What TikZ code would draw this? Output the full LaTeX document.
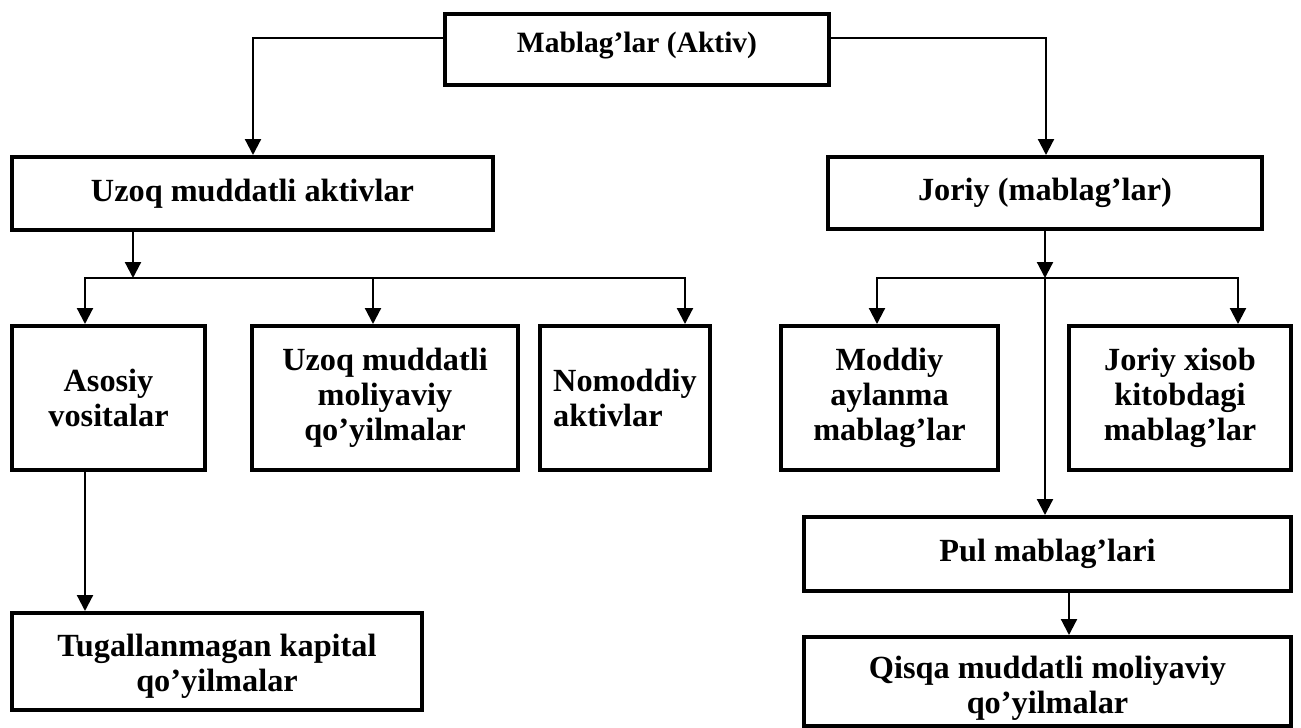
\documentclass[tikz,border=0pt]{standalone}
\usepackage{fontspec}
\setmainfont{Liberation Serif}
\usetikzlibrary{arrows.meta}
\begin{document}
\begin{tikzpicture}[x=1pt,y=-1pt,
  box/.style={draw, line width=4pt, inner sep=4pt, align=center,
    font=\bfseries\fontsize{32.3}{35}\selectfont},
  conn/.style={line width=2.2pt, line cap=rect},
  arr/.style={line width=2.2pt, -{Triangle[width=16pt,length=16pt]}}]
\useasboundingbox (0,0) rectangle (1301,728);

% boxes
\node[box, minimum width=384pt, minimum height=71pt, text depth=14pt,
  font=\bfseries\fontsize{29.5}{33}\selectfont] (top) at (637,49.5) {Mablag’lar (Aktiv)};
\node[box, minimum width=481pt, minimum height=73pt] (uz) at (252.5,193.5) {Uzoq muddatli aktivlar};
\node[box, minimum width=434pt, minimum height=72pt] (jo) at (1045,193) {Joriy (mablag’lar)};

\node[box, minimum width=193pt, minimum height=144pt] (as) at (108.5,398) {Asosiy\\vositalar};
\node[box, minimum width=266pt, minimum height=144pt] (um) at (385,398) {Uzoq muddatli\\moliyaviy\\qo’yilmalar};
\node[box, minimum width=170pt, minimum height=144pt, align=left] (nm) at (625,398) {Nomoddiy\\aktivlar};
\node[box, minimum width=217pt, minimum height=144pt] (md) at (889.5,398) {Moddiy\\aylanma\\mablag’lar};
\node[box, minimum width=222pt, minimum height=144pt] (jx) at (1180,398) {Joriy xisob\\kitobdagi\\mablag’lar};

\node[box, minimum width=410pt, minimum height=97pt] (tg) at (217,661.5)
  {\rule{0pt}{31pt}Tugallanmagan kapital\\qo’yilmalar};
\node[box, minimum width=487pt, minimum height=74pt] (pul) at (1047.5,554) {Pul mablag’lari};
\node[box, minimum width=487pt, minimum height=89pt] (qs) at (1047.5,681.5)
  {\rule{0pt}{36pt}Qisqa muddatli moliyaviy\\qo’yilmalar};

% top level connectors
\coordinate (jl) at (253,38);
\coordinate (jr) at (1046,38);
\draw[arr] (top.west |- jl) -| (uz.north -| jl);
\draw[arr] (top.east |- jr) -| (jo.north -| jr);

% long-term assets branch
\coordinate (lb) at (133,278);
\coordinate (la) at (85,278);
\coordinate (lm) at (373,278);
\coordinate (lc) at (685,278);
\draw[arr] (uz.south -| lb) -- (lb);
\draw[conn] (la) -- (lc);
\draw[arr] (la) -- (as.north -| la);
\draw[arr] (lm) -- (um.north -| lm);
\draw[arr] (lc) -- (nm.north -| lc);
\draw[arr] (as.south -| la) -- (tg.north -| la);

% current assets branch
\coordinate (rb) at (1045,278);
\coordinate (ra) at (877,278);
\coordinate (rc) at (1238,278);
\coordinate (pv) at (1069,591);
\draw[arr] (jo.south -| rb) -- (rb);
\draw[arr] (rb) -- (pul.north -| rb);
\draw[conn] (ra) -- (rc);
\draw[arr] (ra) -- (md.north -| ra);
\draw[arr] (rc) -- (jx.north -| rc);
\draw[arr] (pul.south -| pv) -- (qs.north -| pv);
\end{tikzpicture}
\end{document}
